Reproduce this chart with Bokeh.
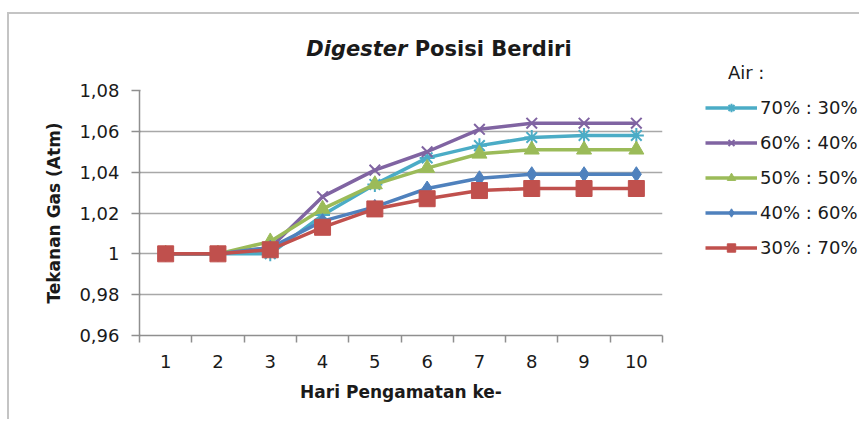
from bokeh.plotting import figure
from bokeh.layouts import column, row
from bokeh.models import (Range1d, FixedTicker, CustomJSTickFormatter, Legend,
                          LegendItem, Div)
from bokeh.embed import file_html
from bokeh.resources import INLINE

days = [1, 2, 3, 4, 5, 6, 7, 8, 9, 10]
s70_30 = [1.000, 1.000, 1.000, 1.019, 1.034, 1.047, 1.053, 1.057, 1.058, 1.058]
s60_40 = [1.000, 1.000, 1.003, 1.028, 1.041, 1.050, 1.061, 1.064, 1.064, 1.064]
s50_50 = [1.000, 1.000, 1.006, 1.022, 1.034, 1.042, 1.049, 1.051, 1.051, 1.051]
s40_60 = [1.000, 1.000, 1.003, 1.016, 1.023, 1.032, 1.037, 1.039, 1.039, 1.039]
s30_70 = [1.000, 1.000, 1.002, 1.013, 1.022, 1.027, 1.031, 1.032, 1.032, 1.032]
series_names = ["70% : 30%", "60% : 40%", "50% : 50%", "40% : 60%", "30% : 70%"]
y_ticks = [0.96, 0.98, 1.00, 1.02, 1.04, 1.06, 1.08]

FONT = "DejaVu Sans"
W1, H0, H1, W2 = 680, 60, 345, 170

title = Div(
    text=("<div style=\"width:680px; text-align:center; padding-top:20px; "
          "padding-left:180px; box-sizing:border-box; "
          "font-family:'DejaVu Sans'; font-weight:bold; font-size:21px; "
          "color:#1a1a1a;\"><i>Digester</i> Posisi Berdiri</div>"),
    width=W1, height=H0, margin=0)

p = figure(width=W1, height=H1, output_backend="svg", toolbar_location=None,
           x_range=Range1d(0.5, 10.5), y_range=Range1d(0.96, 1.08),
           min_border_left=130, min_border_right=27, min_border_top=16,
           min_border_bottom=84)
p.outline_line_color = None
p.background_fill_color = "white"
p.border_fill_color = "white"

# grid
p.xgrid.grid_line_color = None
p.ygrid.grid_line_color = "#a8a8a8"
p.ygrid.grid_line_width = 1.6
p.ygrid.ticker = FixedTicker(ticks=y_ticks)

# y axis
p.yaxis.ticker = FixedTicker(ticks=y_ticks)
p.yaxis.formatter = CustomJSTickFormatter(
    code="return Math.abs(tick-1)<1e-9 ? '1' : tick.toFixed(2).replace('.', ',');")
p.yaxis.axis_line_color = "#8f8f8f"
p.yaxis.axis_line_width = 1.5
p.yaxis.major_tick_line_color = "#8f8f8f"
p.yaxis.major_tick_line_width = 1.5
p.yaxis.major_tick_out = 8
p.yaxis.major_tick_in = 1
p.yaxis.minor_tick_line_color = None
p.yaxis.major_label_standoff = 12
p.yaxis.major_label_text_font = FONT
p.yaxis.major_label_text_font_size = "18px"
p.yaxis.major_label_text_color = "#1a1a1a"
p.yaxis.axis_label = "Tekanan Gas (Atm)"
p.yaxis.axis_label_text_font = FONT
p.yaxis.axis_label_text_font_size = "17px"
p.yaxis.axis_label_text_font_style = "bold"
p.yaxis.axis_label_text_color = "#1a1a1a"
p.yaxis.axis_label_standoff = 12

# x axis
bounds = [d - 0.5 for d in days] + [days[-1] + 0.5]
p.xaxis.ticker = FixedTicker(ticks=days, minor_ticks=bounds)
p.xaxis.axis_line_color = "#8f8f8f"
p.xaxis.axis_line_width = 1.5
p.xaxis.major_tick_line_color = None
p.xaxis.major_tick_out = 0
p.xaxis.major_tick_in = 0
p.xaxis.minor_tick_line_color = "#8f8f8f"
p.xaxis.minor_tick_line_width = 1.5
p.xaxis.minor_tick_out = 7
p.xaxis.minor_tick_in = 0
p.xaxis.major_label_standoff = 12
p.xaxis.major_label_text_font = FONT
p.xaxis.major_label_text_font_size = "18px"
p.xaxis.major_label_text_color = "#1a1a1a"
p.xaxis.axis_label = "Hari Pengamatan ke-"
p.xaxis.axis_label_text_font = FONT
p.xaxis.axis_label_text_font_size = "17px"
p.xaxis.axis_label_text_font_style = "bold"
p.xaxis.axis_label_text_color = "#1a1a1a"
p.xaxis.axis_label_standoff = 11

colors = ["#4BACC6", "#8064A2", "#9BBB59", "#4F81BD", "#C0504D"]
markers = ["asterisk", "x", "triangle", "diamond", "square"]
sizes = [15, 15, 15, 15, 16]
values = [s70_30, s60_40, s50_50, s40_60, s30_70]

# legend panel (separate figure to the right); its proxy glyphs use the same
# data but lie outside this panel's ranges, so only the legend shows.
lf = figure(width=W2, height=H0 + H1, output_backend="svg", toolbar_location=None,
            x_range=Range1d(-1, 0), y_range=Range1d(-1, 0),
            x_axis_location=None, y_axis_location=None,
            min_border=0, min_border_left=0, min_border_right=0,
            min_border_top=0, min_border_bottom=0)
lf.outline_line_color = None
lf.xgrid.visible = False
lf.ygrid.visible = False
lf.border_fill_color = "white"
lf.background_fill_color = "white"

items = []
for name, vals, c, m, sz in zip(series_names, values, colors, markers, sizes):
    p.line(days, vals, line_color=c, line_width=3.5)
    lln = lf.line(days, vals, line_color=c, line_width=3.5)
    if m in ("asterisk", "x"):
        p.scatter(days, vals, marker=m, size=sz, line_color=c, line_width=2)
        lsc = lf.scatter(days, vals, marker=m, size=10, line_color=c, line_width=2)
    else:
        p.scatter(days, vals, marker=m, size=sz, fill_color=c, line_color=c)
        lsc = lf.scatter(days, vals, marker=m, size=10, fill_color=c, line_color=c)
    items.append(LegendItem(label=name, renderers=[lln, lsc]))

legend = Legend(items=items, location=(16, 161), padding=0, margin=0,
                spacing=14, label_height=21, glyph_height=21, glyph_width=52,
                label_standoff=3, border_line_color=None, background_fill_alpha=0,
                label_text_font=FONT, label_text_font_size="18px",
                label_text_color="#1a1a1a",
                title="\u00a0\u00a0\u00a0\u00a0Air :", title_text_font=FONT,
                title_text_font_size="18px", title_text_font_style="normal",
                title_text_color="#1a1a1a", title_standoff=14)
lf.add_layout(legend)

layout = row(column(title, p, spacing=0), lf, spacing=0)
layout.styles = {"border-top": "2px solid #c4c4c4", "border-left": "2px solid #c4c4c4",
                 "position": "relative", "left": "7px", "top": "12px"}

open("out.html", "w").write(file_html(layout, INLINE))
